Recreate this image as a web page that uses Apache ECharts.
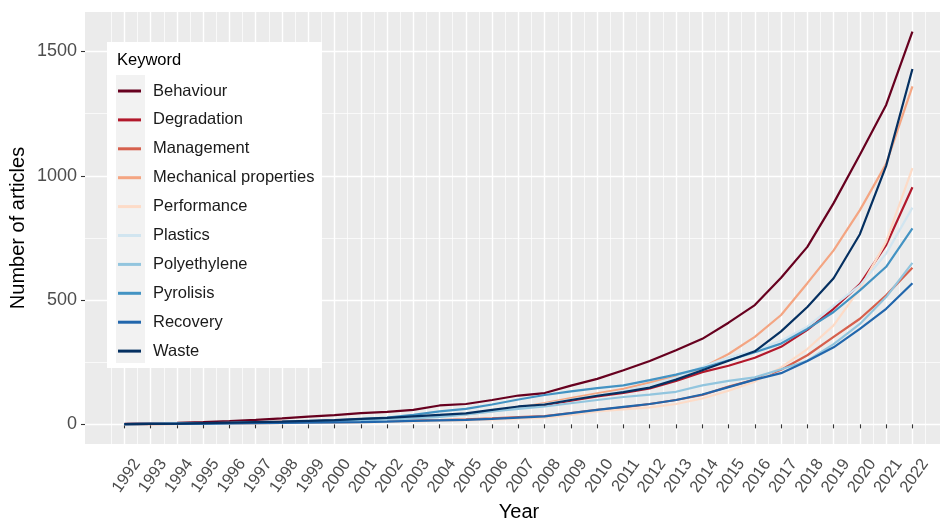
<!DOCTYPE html>
<html>
<head>
<meta charset="utf-8">
<script src="https://cdn.jsdelivr.net/npm/echarts@6/dist/echarts.min.js"></script>
<style>
html, body { margin: 0; padding: 0; background: #fff; }
#chart { width: 940px; height: 520px; }
</style>
</head>
<body>
<div id="chart"></div>
<script>
// Publication years shown on the x axis
const years = [1992, 1993, 1994, 1995, 1996, 1997, 1998, 1999, 2000, 2001, 2002,
  2003, 2004, 2005, 2006, 2007, 2008, 2009, 2010, 2011, 2012, 2013, 2014, 2015,
  2016, 2017, 2018, 2019, 2020, 2021, 2022];
const yTicks = [0, 500, 1000, 1500];
const yMinorTicks = [250, 750, 1250];

// Keywords, in legend order
const keywords = ['Behaviour', 'Degradation', 'Management', 'Mechanical properties',
  'Performance', 'Plastics', 'Polyethylene', 'Pyrolisis', 'Recovery', 'Waste'];

// Number of articles per year for each keyword
const behaviour   = [2, 4, 6, 9, 13, 18, 24, 31, 37, 45, 50, 58, 76, 82, 98, 116, 126, 156, 183, 218, 255, 298, 344, 409, 480, 590, 714, 890, 1085, 1285, 1580];
const degradation = [1, 2, 3, 4, 6, 8, 10, 12, 15, 19, 23, 29, 35, 41, 54, 68, 78, 95, 112, 127, 145, 175, 210, 236, 268, 312, 380, 465, 564, 721, 954];
const management  = [1, 1, 2, 3, 4, 5, 6, 7, 8, 10, 12, 15, 17, 20, 24, 29, 33, 45, 58, 68, 82, 98, 118, 152, 180, 220, 278, 352, 425, 519, 630];
const mechanical  = [1, 2, 3, 4, 6, 8, 10, 12, 14, 18, 22, 27, 33, 40, 52, 68, 86, 106, 125, 143, 168, 192, 228, 283, 352, 440, 568, 700, 862, 1048, 1360];
const performance = [1, 1, 1, 2, 3, 4, 5, 6, 7, 8, 10, 12, 14, 16, 19, 23, 27, 38, 52, 60, 68, 82, 104, 135, 172, 229, 303, 398, 546, 735, 1031];
const plastics    = [1, 2, 3, 4, 5, 7, 9, 11, 13, 17, 21, 26, 32, 40, 52, 66, 82, 100, 118, 135, 160, 188, 232, 270, 296, 337, 393, 478, 559, 687, 872];
const polyethylene= [1, 2, 3, 4, 5, 7, 9, 11, 13, 16, 19, 24, 30, 40, 52, 62, 72, 85, 98, 110, 120, 131, 157, 175, 189, 222, 256, 323, 404, 512, 650];
const pyrolisis   = [1, 2, 3, 4, 6, 8, 10, 13, 16, 21, 27, 38, 52, 62, 80, 100, 118, 133, 146, 157, 178, 200, 226, 258, 290, 325, 384, 452, 539, 634, 788];
const recovery    = [1, 2, 2, 3, 4, 5, 6, 7, 8, 9, 11, 14, 16, 18, 22, 27, 32, 45, 58, 70, 82, 98, 120, 150, 180, 206, 255, 310, 384, 465, 568];
const waste       = [1, 2, 3, 5, 7, 9, 11, 14, 17, 22, 26, 32, 38, 44, 58, 72, 80, 98, 115, 130, 148, 180, 218, 256, 294, 374, 472, 588, 765, 1040, 1430];

const seriesValues = [behaviour, degradation, management, mechanical, performance,
  plastics, polyethylene, pyrolisis, recovery, waste];

// RdBu diverging palette, 10 classes
const palette = ['#67001F', '#B2182B', '#D6604D', '#F4A582', '#FDDBC7',
  '#D1E5F0', '#92C5DE', '#4393C3', '#2166AC', '#053061'];

// Minor vertical grid lines sit half-way between years
const xMinorTicks = [years[0] - 0.5].concat(years.map(y => y + 0.5));
// Year labels are split over two overlaid axes so neighbouring rotated labels never collide
const evenYears = years.filter(y => y % 2 === 0);
const oddYears = years.filter(y => y % 2 === 1);

const FONT = '"Liberation Sans", Arial, Helvetica, sans-serif';
const plain = v => String(v);

const X_MIN = 1990.5, X_MAX = 2023.05;
const yearLabel = values => ({
  customValues: values, formatter: plain, rotate: 55, margin: 8,
  showMinLabel: true, showMaxLabel: true, hideOverlap: false,
  verticalAlign: 'top', lineHeight: 19, padding: [6, 0, 0, 0],
  fontSize: 16.5, color: '#4D4D4D', fontFamily: FONT
});

const chart = echarts.init(document.getElementById('chart'), null, { renderer: 'canvas' });

const option = {
  animation: false,
  backgroundColor: '#ffffff',
  grid: {
    left: 85, top: 12, right: 0, height: 432,
    show: true, backgroundColor: '#EBEBEB', borderWidth: 0,
    outerBoundsMode: 'none'
  },
  xAxis: [{
    type: 'value', min: X_MIN, max: X_MAX,
    axisLine: { show: false },
    axisTick: { show: true, customValues: years, length: 4, lineStyle: { color: '#333333', width: 1.1 } },
    axisLabel: yearLabel(evenYears),
    splitLine: { show: true, lineStyle: { color: '#ffffff', width: 1.4 } },
    name: 'Year', nameLocation: 'middle', nameGap: 58, nameMoveOverlap: false,
    nameTextStyle: { fontSize: 20, color: '#000000', fontFamily: FONT, padding: [0, 0, 0, 13] }
  }, {
    type: 'value', min: X_MIN, max: X_MAX, position: 'bottom',
    axisLine: { show: false },
    axisTick: { show: false, customValues: xMinorTicks },
    axisLabel: { show: false, customValues: xMinorTicks },
    splitLine: { show: true, lineStyle: { color: '#ffffff', width: 0.7 } }
  }, {
    type: 'value', min: X_MIN, max: X_MAX, position: 'bottom',
    axisLine: { show: false },
    axisTick: { show: false, customValues: oddYears },
    axisLabel: yearLabel(oddYears),
    splitLine: { show: false }
  }],
  yAxis: [{
    type: 'value', min: -79, max: 1659,
    axisLine: { show: false },
    axisTick: { show: true, customValues: yTicks, length: 4, lineStyle: { color: '#333333', width: 1.1 } },
    axisLabel: { customValues: yTicks, formatter: plain, margin: 8,
      showMinLabel: true, showMaxLabel: true,
      fontSize: 18, color: '#4D4D4D', fontFamily: FONT },
    splitLine: { show: true, lineStyle: { color: '#ffffff', width: 1.4 } },
    name: 'Number of articles', nameLocation: 'middle', nameRotate: 90, nameGap: 57,
    nameMoveOverlap: false,
    nameTextStyle: { fontSize: 20, color: '#000000', fontFamily: FONT }
  }, {
    type: 'value', min: -79, max: 1659, position: 'left',
    axisLine: { show: false },
    axisTick: { show: false, customValues: yMinorTicks },
    axisLabel: { show: false, customValues: yMinorTicks },
    splitLine: { show: true, lineStyle: { color: '#ffffff', width: 0.7 } }
  }],
  legend: {
    orient: 'vertical', left: 118, top: 82, z: 6, padding: 0,
    icon: 'rect', itemWidth: 23, itemHeight: 3, itemGap: 10.9,
    data: keywords,
    textStyle: { fontSize: 16.5, lineHeight: 18, color: '#1A1A1A', fontFamily: FONT, padding: [0, 0, 0, 7] }
  },
  graphic: [
    { type: 'rect', z: 4, shape: { x: 107, y: 42, width: 215, height: 326 }, style: { fill: '#ffffff' } },
    { type: 'rect', z: 4, shape: { x: 116, y: 75, width: 29, height: 288 }, style: { fill: '#F2F2F2' } },
    { type: 'text', z: 5, x: 117, y: 60, style: { text: 'Keyword', fontSize: 16.5, fill: '#000000',
      fontFamily: FONT, verticalAlign: 'middle', textAlign: 'left' } }
  ],
  series: keywords.map((name, i) => ({
    name: name,
    type: 'line',
    xAxisIndex: 0, yAxisIndex: 0,
    data: years.map((y, j) => [y, seriesValues[i][j]]),
    symbol: 'none', showSymbol: false,
    lineStyle: { width: 2.2, color: palette[i] },
    itemStyle: { color: palette[i] },
    emphasis: { disabled: true }
  }))
};

chart.setOption(option);
</script>
</body>
</html>
